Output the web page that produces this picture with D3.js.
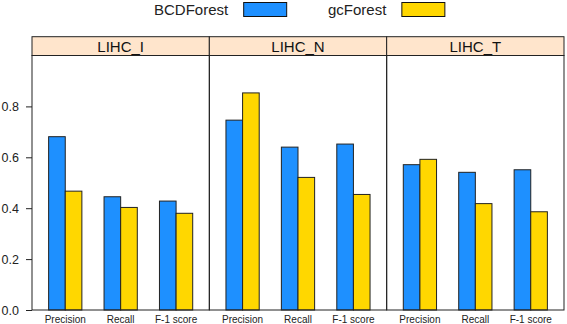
<!DOCTYPE html>
<html>
<head>
<meta charset="utf-8">
<script src="https://cdn.jsdelivr.net/npm/d3@7"></script>
<style>
  body { margin: 0; background: #fff; }
  svg { display: block; font-family: 'Liberation Sans', Arial, sans-serif; }
</style>
</head>
<body>
<div id="container"></div>
<script>
// data
const panels = ['LIHC_I', 'LIHC_N', 'LIHC_T'];
const metrics = ['Precision', 'Recall', 'F-1 score'];
const seriesNames = ['BCDForest', 'gcForest'];
const seriesColors = ['#1E90FF', '#FFD700'];
const bcdForest = [
  [0.681, 0.445, 0.428],
  [0.746, 0.640, 0.652],
  [0.571, 0.541, 0.551]
];
const gcForest = [
  [0.467, 0.403, 0.380],
  [0.853, 0.521, 0.454],
  [0.592, 0.418, 0.386]
];
const yTicks = [0, 0.2, 0.4, 0.6, 0.8];

const width = 567, height = 324;
const left = 32, right = 564, stripTop = 36.7, panelTop = 55.5, bottom = 310;
const panelW = (right - left) / panels.length;

const svg = d3.select('#container')
  .append('svg')
  .attr('width', width)
  .attr('height', height);

// scales
let yScale = d3.scaleLinear().domain([0, 1]).range([bottom, panelTop]);
let xMetric = d3.scaleBand().domain(metrics).range([0, panelW])
  .paddingInner(0.4).paddingOuter(0.3);
let xSeries = d3.scaleBand().domain(seriesNames).range([0, xMetric.bandwidth()]);
let color = d3.scaleOrdinal().domain(seriesNames).range(seriesColors);

// legend
const legend = svg.append('g').attr('font-size', 15).attr('fill', '#222');
const legendPos = [154, 328];
seriesNames.forEach((name, i) => {
  let g = legend.append('g').attr('transform', `translate(${legendPos[i]},0)`);
  let t = g.append('text').attr('x', 0).attr('y', 15).text(name);
  let tw = t.node().getComputedTextLength();
  g.append('rect')
    .attr('x', tw + 15.5)
    .attr('y', 2.5)
    .attr('width', 43)
    .attr('height', 14)
    .attr('fill', color(name))
    .attr('stroke', '#111')
    .attr('stroke-width', 1);
});

// panels
panels.forEach((p, pi) => {
  let x0 = left + pi * panelW;
  let g = svg.append('g').attr('transform', `translate(${x0},0)`);

  // strip
  g.append('rect')
    .attr('x', 0)
    .attr('y', stripTop)
    .attr('width', panelW)
    .attr('height', panelTop - stripTop)
    .attr('fill', '#FFE5CC')
    .attr('stroke', '#222')
    .attr('stroke-width', 1);
  g.append('text')
    .attr('x', panelW / 2)
    .attr('y', (stripTop + panelTop) / 2 + 5.5)
    .attr('text-anchor', 'middle')
    .attr('font-size', 15)
    .attr('fill', '#111')
    .text(p);

  // bars
  let rows = [];
  metrics.forEach((m, mi) => {
    rows.push({metric: m, series: seriesNames[0], value: bcdForest[pi][mi]});
    rows.push({metric: m, series: seriesNames[1], value: gcForest[pi][mi]});
  });
  g.selectAll('.bar')
    .data(rows)
    .enter()
    .append('rect')
    .attr('class', 'bar')
    .attr('x', d => xMetric(d.metric) + xSeries(d.series))
    .attr('y', d => yScale(d.value))
    .attr('width', xSeries.bandwidth())
    .attr('height', d => yScale(0) - yScale(d.value))
    .attr('fill', d => color(d.series))
    .attr('stroke', '#222')
    .attr('stroke-width', 1);

  // panel border
  g.append('rect')
    .attr('x', 0)
    .attr('y', panelTop)
    .attr('width', panelW)
    .attr('height', bottom - panelTop)
    .attr('fill', 'none')
    .attr('stroke', '#222')
    .attr('stroke-width', 1);

  // x axis labels
  let xAxis = g.append('g')
    .attr('transform', `translate(0,${bottom})`)
    .call(d3.axisBottom(xMetric).tickSize(0).tickPadding(6));
  xAxis.select('.domain').remove();
  xAxis.selectAll('text')
    .attr('font-size', 10)
    .attr('font-family', "'Liberation Sans', Arial, sans-serif")
    .attr('fill', '#222');
});

// y axis
let yAxis = svg.append('g')
  .attr('transform', `translate(${left},0)`)
  .call(d3.axisLeft(yScale).tickValues(yTicks).tickFormat(d3.format('.1f'))
    .tickSize(6).tickPadding(7));
yAxis.select('.domain').remove();
yAxis.selectAll('line').attr('stroke', '#222');
yAxis.selectAll('text')
  .attr('font-size', 12.5)
  .attr('font-family', "'Liberation Sans', Arial, sans-serif")
  .attr('fill', '#222');
</script>
</body>
</html>
